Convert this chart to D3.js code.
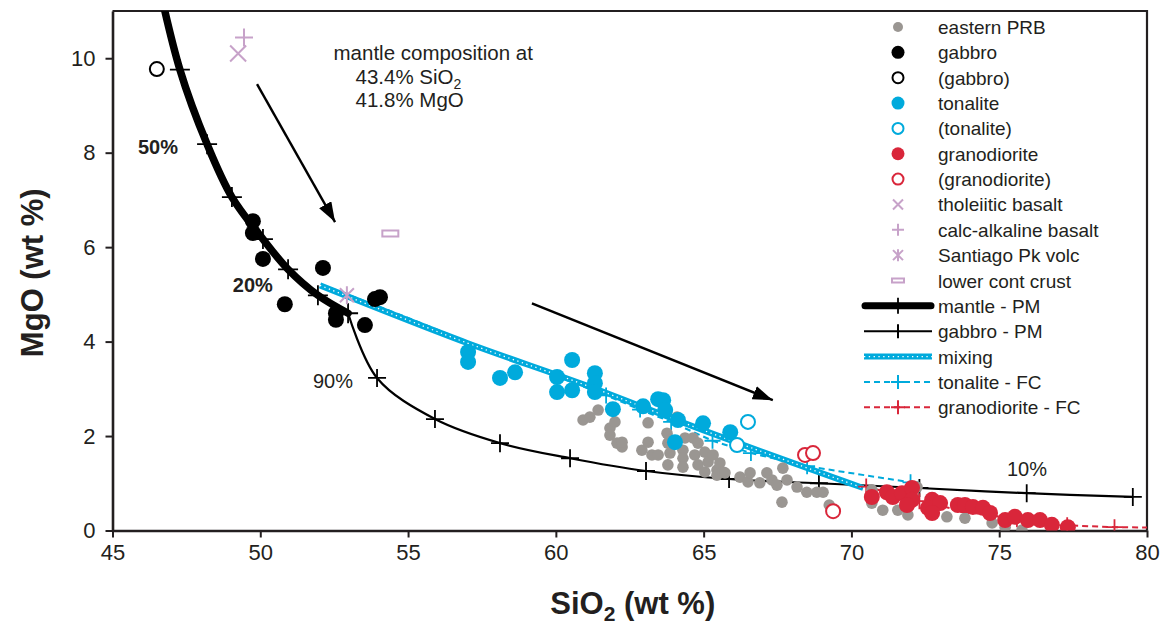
<!DOCTYPE html>
<html>
<head>
<meta charset="utf-8">
<script src="https://cdn.jsdelivr.net/npm/d3@7"></script>
<style>
  body { margin: 0; background: #fff; }
  svg text { font-family: "Liberation Sans", Arial, Helvetica, sans-serif; fill: #231f20; }
</style>
</head>
<body>
<div id="plot"></div>
<script>

// Data  [SiO2, MgO]

  var xTicks = [45, 50, 55, 60, 65, 70, 75, 80];
  var yTicks = [0, 2, 4, 6, 8, 10];

  var easternPRB = [
    [60.92, 2.34], [61.15, 2.40], [61.43, 2.55], [61.83, 2.17], [61.83, 2.02], [62.0, 2.30],
    [62.07, 1.85], [62.24, 1.77], [62.24, 1.87], [62.91, 1.70], [63.12, 1.87], [63.12, 2.28],
    [63.25, 1.60], [63.46, 1.60], [63.76, 2.06], [63.79, 1.85], [63.86, 1.64], [63.79, 1.39],
    [64.1, 2.40], [64.3, 1.70], [64.3, 1.53], [64.37, 1.96], [64.64, 1.96], [64.7, 1.60],
    [64.81, 1.39], [65.04, 1.66], [65.04, 1.24], [65.15, 1.45], [65.32, 1.60], [65.45, 1.28],
    [65.45, 1.17], [65.55, 1.43], [65.65, 1.24], [65.72, 1.22], [66.23, 1.13], [66.5, 1.03],
    [66.57, 1.22], [66.9, 1.01], [67.14, 1.22], [67.31, 1.07], [67.48, 0.96], [67.68, 1.32],
    [67.82, 1.07], [67.65, 0.60], [68.16, 0.92], [68.49, 0.81], [68.83, 0.81], [69.04, 0.81],
    [69.25, 0.54], [63.86, 1.92], [64.3, 1.34], [64.81, 1.85], [70.69, 0.86], [70.69, 0.58],
    [71.06, 0.43], [71.57, 0.43], [71.91, 0.33], [72.22, 0.92], [73.23, 0.29], [73.84, 0.26],
    [74.76, 0.16], [75.2, 0.07], [75.77, 0.01]
  ];
  var gabbro = [
    [49.75, 6.55], [49.75, 6.30], [50.09, 5.75], [50.83, 4.79], [52.12, 5.56],
    [52.56, 4.60], [52.56, 4.46], [53.54, 4.35], [53.88, 4.90], [54.05, 4.94]
  ];
  var gabbroOpen = [[46.5, 9.77]];
  var tonalite = [
    [57.03, 3.78], [57.03, 3.57], [58.11, 3.23], [58.62, 3.35], [60.04, 3.25], [60.04, 2.93],
    [60.55, 2.97], [60.55, 3.61], [61.32, 3.33], [61.32, 3.12], [61.32, 2.93], [61.93, 2.57],
    [62.95, 2.63], [63.46, 2.78], [63.63, 2.76], [63.7, 2.55], [64.13, 2.34], [64.03, 1.87],
    [64.98, 2.27], [65.9, 2.08]
  ];
  var tonaliteOpen = [[66.5, 2.30], [66.13, 1.81]];
  var granodiorite = [
    [70.69, 0.71], [71.2, 0.81], [71.4, 0.71], [71.71, 0.79], [72.05, 0.90], [72.05, 0.65],
    [71.88, 0.54], [72.73, 0.65], [72.59, 0.48], [73.0, 0.58], [72.73, 0.37], [73.6, 0.54],
    [73.84, 0.54], [74.11, 0.50], [74.45, 0.48], [74.69, 0.37], [75.2, 0.22], [75.53, 0.29],
    [75.97, 0.22], [76.38, 0.22], [76.78, 0.12], [77.32, 0.07]
  ];
  var granodioriteOpen = [[68.43, 1.60], [68.7, 1.64], [69.38, 0.41]];
  var tholeiiticBasalt = [[49.25, 10.1]];
  var calcAlkalineBasalt = [[49.45, 10.44]];
  var santiagoPk = [[52.93, 4.98]];
  var lowerCrust = [[54.4, 6.29]];

  var mantlePM = [
    [46.45, 11.9], [47.28, 9.76], [48.2, 8.18], [49.04, 7.06], [50.09, 6.17],
    [50.94, 5.53], [51.95, 4.98], [52.97, 4.60]
  ];
  var gabbroPM = [
    [52.97, 4.60], [53.95, 3.23], [55.91, 2.36], [58.11, 1.85], [60.48, 1.53], [63.05, 1.26],
    [65.86, 1.09], [68.9, 1.0], [72.3, 0.9], [75.93, 0.79], [79.52, 0.71]
  ];
  var mixing = [[52.02, 5.19], [57.0, 3.97], [61.0, 3.08], [65.0, 2.12], [70.4, 0.9]];
  var tonaliteFC = [
    [52.1, 5.2], [54.6, 4.6], [57.0, 4.0], [59.4, 3.42], [61.7, 2.86], [62.85, 2.56],
    [63.9, 2.3], [65.3, 1.9], [66.6, 1.64], [68.5, 1.36], [72.0, 1.02]
  ];
  var granodioriteFC = [
    [70.5, 0.93], [72.3, 0.62], [73.95, 0.39], [75.6, 0.24], [77.3, 0.11], [78.9, 0.07], [80.6, 0.06]
  ];

  var arrows = [
    [[49.89, 9.45], [52.53, 6.53]],
    [[59.19, 4.81], [67.34, 2.76]]
  ];

  var legendLabels = ["eastern PRB", "gabbro", "(gabbro)", "tonalite", "(tonalite)", "granodiorite",
    "(granodiorite)", "tholeiitic basalt", "calc-alkaline basalt", "Santiago Pk volc",
    "lower cont crust", "mantle - PM", "gabbro - PM", "mixing", "tonalite - FC", "granodiorite - FC"];

  var noteLines = ["mantle composition at", "43.4% SiO", "41.8% MgO"];

// Sizes and colours

  var w = 1162;
  var h = 631;
  var margin = {top: 11, right: 15, bottom: 100.5, left: 112.5};
  var innerWidth = w - margin.left - margin.right;
  var innerHeight = h - margin.top - margin.bottom;

  var cyan = "#00aadc";
  var red = "#d9263a";
  var grey = "#9a9692";
  var pink = "#c7a2c9";
  var ink = "#231f20";

  var xScale = d3.scaleLinear()
      .domain([45, 80])
      .range([0, innerWidth]);

  var yScale = d3.scaleLinear()
      .domain([0, 11])
      .range([innerHeight, 0]);

  var xAxis = d3.axisBottom(xScale)
      .tickValues(xTicks)
      .tickSize(7)
      .tickSizeOuter(0)
      .tickPadding(7);

  var yAxis = d3.axisLeft(yScale)
      .tickValues(yTicks)
      .tickSize(7)
      .tickSizeOuter(0)
      .tickPadding(10);

  var svg = d3.select("div#plot")
    .append("svg")
      .attr("width", w)
      .attr("height", h);

  var defs = svg.append("defs");

  defs.append("clipPath")
      .attr("id", "clip")
    .append("rect")
      .attr("width", innerWidth)
      .attr("height", innerHeight);

  defs.append("marker")
      .attr("id", "head")
      .attr("viewBox", "0 0 20 14")
      .attr("refX", 20)
      .attr("refY", 7)
      .attr("markerWidth", 20)
      .attr("markerHeight", 14)
      .attr("markerUnits", "userSpaceOnUse")
      .attr("orient", "auto")
    .append("path")
      .attr("d", "M0,0L20,7L0,14Z")
      .attr("fill", "#000");

  var g = svg.append("g")
      .attr("transform", `translate(${margin.left}, ${margin.top})`);

// axes and frame

  g.append("g")
      .attr("class", "xAxis")
      .attr("transform", `translate(0, ${innerHeight})`)
      .call(xAxis);

  g.append("g")
      .attr("class", "yAxis")
      .call(yAxis);

  g.selectAll(".domain, .tick line")
      .attr("stroke", ink)
      .attr("stroke-width", 2);
  g.selectAll(".domain").attr("stroke-width", 2.6);
  g.selectAll(".tick text")
      .style("font-size", "22px")
      .attr("fill", ink);

  g.append("path")
      .attr("d", `M0,0H${innerWidth}V${innerHeight}`)
      .attr("fill", "none")
      .attr("stroke", ink)
      .attr("stroke-width", 2.2);

  var plot = g.append("g").attr("clip-path", "url(#clip)");

  var line = d3.line()
      .x(d => xScale(d[0]))
      .y(d => yScale(d[1]));

  var smooth = d3.line()
      .x(d => xScale(d[0]))
      .y(d => yScale(d[1]))
      .curve(d3.curveCatmullRom.alpha(0.5));

  function ticks(data, color, size) {
    plot.append("g").selectAll("path")
        .data(data)
      .enter().append("path")
        .attr("transform", d => `translate(${xScale(d[0])}, ${yScale(d[1])})`)
        .attr("d", `M${-size},0H${size}M0,${-size}V${size}`)
        .attr("stroke", color)
        .attr("stroke-width", 1.8)
        .attr("fill", "none");
  }

// model curves

  plot.append("path")
      .datum(gabbroPM)
      .attr("d", smooth)
      .attr("fill", "none")
      .attr("stroke", "#000")
      .attr("stroke-width", 2.2);
  ticks(gabbroPM.slice(1), "#000", 9);

  plot.append("path")
      .datum(mantlePM)
      .attr("d", smooth)
      .attr("fill", "none")
      .attr("stroke", "#000")
      .attr("stroke-width", 7.5)
      .attr("stroke-linecap", "round");
  ticks(mantlePM, "#000", 10);

  // FC path runs under the mixing line up to ~61 % SiO2
  plot.append("path")
      .datum(tonaliteFC)
      .attr("d", line)
      .attr("fill", "none")
      .attr("stroke", cyan)
      .attr("stroke-width", 2)
      .attr("stroke-dasharray", "6,4");
  ticks(tonaliteFC.slice(4), cyan, 8);

  plot.append("path")
      .datum(mixing)
      .attr("d", smooth)
      .attr("fill", "none")
      .attr("stroke", cyan)
      .attr("stroke-width", 6);
  plot.append("path")
      .datum(mixing)
      .attr("d", smooth)
      .attr("fill", "none")
      .attr("stroke", "#fff")
      .attr("stroke-width", 1.3)
      .attr("stroke-dasharray", "1.3,3.5");

  plot.append("path")
      .datum(granodioriteFC)
      .attr("d", line)
      .attr("fill", "none")
      .attr("stroke", red)
      .attr("stroke-width", 2)
      .attr("stroke-dasharray", "6,4");
  ticks(granodioriteFC, red, 8);

// arrows

  g.selectAll(".arrow")
      .data(arrows)
    .enter().append("path")
      .attr("class", "arrow")
      .attr("d", line)
      .attr("stroke", "#000")
      .attr("stroke-width", 2.4)
      .attr("marker-end", "url(#head)");

// sample points

  function dots(data, r, fill, stroke) {
    plot.append("g").selectAll("circle")
        .data(data)
      .enter().append("circle")
        .attr("cx", d => xScale(d[0]))
        .attr("cy", d => yScale(d[1]))
        .attr("r", r)
        .attr("fill", fill)
        .attr("stroke", stroke || "none")
        .attr("stroke-width", 2);
  }

  dots(easternPRB, 5.8, grey);
  dots(gabbro, 8, "#000");
  dots(gabbroOpen, 7, "#fff", "#000");
  dots(tonalite, 8, cyan);
  dots(tonaliteOpen, 7, "#fff", cyan);
  dots(granodiorite, 8, red);
  dots(granodioriteOpen, 7, "#fff", red);

  var symbols = {
    cross: "M-8,-8L8,8M-8,8L8,-8",
    plus: "M-9,0H9M0,-9V9",
    star: "M-7,-7L7,7M-7,7L7,-7M0,-9V9",
    bar: "M-8,-3H8V3H-8Z"
  };

  function sym(data, kind) {
    plot.append("g").selectAll("path")
        .data(data)
      .enter().append("path")
        .attr("transform", d => `translate(${xScale(d[0])}, ${yScale(d[1])})`)
        .attr("d", symbols[kind])
        .attr("fill", kind == "bar" ? "#fff" : "none")
        .attr("stroke", pink)
        .attr("stroke-width", 2);
  }

  sym(tholeiiticBasalt, "cross");
  sym(calcAlkalineBasalt, "plus");
  sym(santiagoPk, "star");
  sym(lowerCrust, "bar");

// labels on curves

  var pct = [
    {t: "50%", x: 45.86, y: 7.97, b: true},
    {t: "20%", x: 49.07, y: 5.05, b: true},
    {t: "90%", x: 51.78, y: 3.02, b: false},
    {t: "10%", x: 75.26, y: 1.15, b: false}
  ];
  g.selectAll(".pct")
      .data(pct)
    .enter().append("text")
      .attr("class", "pct")
      .attr("x", d => xScale(d.x))
      .attr("y", d => yScale(d.y))
      .style("font-size", "20px")
      .style("font-weight", d => d.b ? "bold" : "normal")
      .text(d => d.t);

  var note = g.append("text")
      .style("font-size", "20.5px");
  note.append("tspan").attr("x", 221).attr("y", 49).text(noteLines[0]);
  note.append("tspan").attr("x", 243).attr("y", 73).text(noteLines[1]);
  note.append("tspan").attr("dy", 5).style("font-size", "14px").text("2");
  note.append("tspan").attr("x", 243).attr("y", 96).text(noteLines[2]);

// axis titles

  svg.append("text")
      .attr("transform", `translate(43, ${margin.top + innerHeight / 2 + 2}) rotate(-90)`)
      .attr("text-anchor", "middle")
      .style("font-size", "31px")
      .style("font-weight", "bold")
      .text("MgO (wt %)");

  var xt = svg.append("text")
      .attr("x", margin.left + innerWidth / 2 + 3)
      .attr("y", 614)
      .attr("text-anchor", "middle")
      .style("font-size", "31px")
      .style("font-weight", "bold");
  xt.append("tspan").text("SiO");
  xt.append("tspan").attr("dy", 7).style("font-size", "21px").text("2");
  xt.append("tspan").attr("dy", -7).text(" (wt %)");

// legend

  var legend = svg.append("g")
      .attr("transform", "translate(898, 27)");

  var rows = legend.selectAll("g")
      .data(legendLabels)
    .enter().append("g")
      .attr("transform", (d, i) => `translate(0, ${i * 25.35})`);

  rows.append("text")
      .attr("x", 40)
      .attr("y", 7)
      .style("font-size", "19px")
      .text(d => d);

  var lg = i => d3.select(rows.nodes()[i]);

  lg(0).append("circle").attr("r", 5).attr("fill", grey);
  lg(1).append("circle").attr("r", 6.5).attr("fill", "#000");
  lg(2).append("circle").attr("r", 5.5).attr("fill", "#fff").attr("stroke", "#000").attr("stroke-width", 2);
  lg(3).append("circle").attr("r", 6.5).attr("fill", cyan);
  lg(4).append("circle").attr("r", 5.5).attr("fill", "#fff").attr("stroke", cyan).attr("stroke-width", 2);
  lg(5).append("circle").attr("r", 6.5).attr("fill", red);
  lg(6).append("circle").attr("r", 5.5).attr("fill", "#fff").attr("stroke", red).attr("stroke-width", 2);
  lg(7).append("path").attr("d", "M-5,-5L5,5M-5,5L5,-5").attr("stroke", pink).attr("stroke-width", 2);
  lg(8).append("path").attr("d", "M-6,0H6M0,-6V6").attr("stroke", pink).attr("stroke-width", 2);
  lg(9).append("path").attr("d", "M-5,-5L5,5M-5,5L5,-5M0,-6V6").attr("stroke", pink).attr("stroke-width", 2);
  lg(10).append("path").attr("d", "M-6,-2H6V2H-6Z").attr("fill", "#fff").attr("stroke", pink).attr("stroke-width", 2);

  lg(11).append("path").attr("d", "M-33,0H33").attr("stroke", "#000").attr("stroke-width", 7).attr("stroke-linecap", "round");
  lg(11).append("path").attr("d", "M0,-8V8").attr("stroke", "#000").attr("stroke-width", 1.8);
  lg(12).append("path").attr("d", "M-34,0H34M0,-7V7").attr("stroke", "#000").attr("stroke-width", 2);
  lg(13).append("path").attr("d", "M-34,0H34").attr("stroke", cyan).attr("stroke-width", 6);
  lg(13).append("path").attr("d", "M-34,0H34").attr("stroke", "#fff").attr("stroke-width", 1.3).attr("stroke-dasharray", "1.3,3.5");
  lg(14).append("path").attr("d", "M-34,0H34").attr("stroke", cyan).attr("stroke-width", 2).attr("stroke-dasharray", "6,4");
  lg(14).append("path").attr("d", "M-7,0H7M0,-7V7").attr("stroke", cyan).attr("stroke-width", 2);
  lg(15).append("path").attr("d", "M-34,0H34").attr("stroke", red).attr("stroke-width", 2).attr("stroke-dasharray", "6,4");
  lg(15).append("path").attr("d", "M-7,0H7M0,-7V7").attr("stroke", red).attr("stroke-width", 2);

</script>
</body>
</html>
